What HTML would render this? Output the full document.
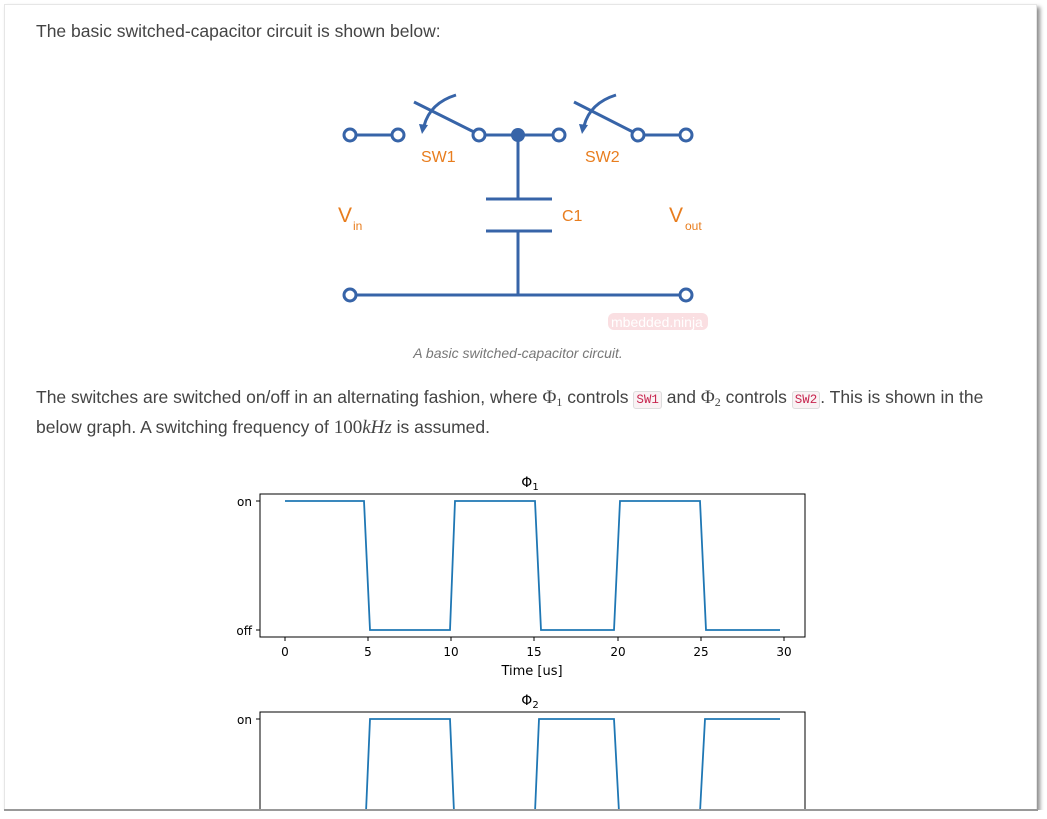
<!DOCTYPE html>
<html><head><style>
body{margin:0;width:1047px;height:819px;background:#fff;overflow:hidden;font-family:"Liberation Sans",sans-serif;}
.card{position:absolute;left:4px;top:4px;width:1033px;height:806px;background:#fff;box-shadow:3px 3px 4px rgba(0,0,0,.45);border:1px solid #e6e6e6;box-sizing:border-box;}
p{position:absolute;margin:0;left:36px;font-size:17.5px;color:#444;}
code{font-family:"Liberation Mono",monospace;font-size:12.5px;color:#c7254e;background:#f9f2f4;border:1px solid #ddd;border-radius:3px;padding:1px 2px;line-height:0;}
.m{font-family:"Liberation Serif",serif;font-size:19px;line-height:0;}
sub{font-size:12px;line-height:0;vertical-align:-3px;}
</style></head><body>
<div class="card"></div>
<p style="top:21px">The basic switched-capacitor circuit is shown below:</p>
<svg style="position:absolute;left:0;top:0" width="1047" height="819">
<g stroke="#3764a8" stroke-width="3" fill="none">
<line x1="356" y1="135" x2="392" y2="135"/>
<line x1="485" y1="135" x2="553" y2="135"/>
<line x1="644" y1="135" x2="680" y2="135"/>
<line x1="356" y1="295" x2="680" y2="295"/>
<line x1="518" y1="135" x2="518" y2="199"/>
<line x1="518" y1="231" x2="518" y2="295"/>
<line x1="486" y1="199" x2="552" y2="199"/>
<line x1="486" y1="231" x2="552" y2="231"/>
<line x1="414" y1="102" x2="474" y2="132"/>
<line x1="574" y1="102" x2="633" y2="132"/>
<path d="M456 95 Q430 103 424 126"/>
<path d="M616 95 Q590 103 584 126"/>
<circle cx="350" cy="135" r="6" fill="#fff"/><circle cx="398" cy="135" r="6" fill="#fff"/>
<circle cx="479" cy="135" r="6" fill="#fff"/><circle cx="559" cy="135" r="6" fill="#fff"/>
<circle cx="638" cy="135" r="6" fill="#fff"/><circle cx="686" cy="135" r="6" fill="#fff"/>
<circle cx="350" cy="295" r="6" fill="#fff"/><circle cx="686" cy="295" r="6" fill="#fff"/>
</g>
<circle cx="518" cy="135" r="7" fill="#3764a8"/>
<path d="M419 124 L428 125 L422 134Z" fill="#3764a8"/>
<path d="M579 124 L588 125 L582 134Z" fill="#3764a8"/>
<g fill="#e87d1e" font-family="Liberation Sans,sans-serif">
<text x="421" y="162" font-size="16">SW1</text>
<text x="585" y="162" font-size="16">SW2</text>
<text x="562" y="221" font-size="16">C1</text>
<text x="338" y="222" font-size="21">V</text><text x="353" y="230" font-size="12">in</text>
<text x="669" y="222" font-size="21">V</text><text x="685" y="230" font-size="12">out</text>
</g>
<rect x="608" y="313" width="100" height="17" rx="6" fill="#f6c9cf" opacity=".6"/>
<text x="611" y="327" font-size="14" fill="#fff" font-family="Liberation Sans,sans-serif">mbedded.ninja</text>
<text x="518" y="358" font-size="14" fill="#777" font-style="italic" text-anchor="middle" font-family="Liberation Sans,sans-serif">A basic switched-capacitor circuit.</text>
<g font-family="DejaVu Sans,sans-serif" font-size="12" fill="#000">
<rect x="260" y="494" width="545" height="143" fill="none" stroke="#000" stroke-width="1"/>
<line x1="256" y1="501" x2="260" y2="501" stroke="#000"/><line x1="256" y1="630" x2="260" y2="630" stroke="#000"/>
<text x="252" y="506" text-anchor="end">on</text><text x="252" y="635" text-anchor="end">off</text>
<g stroke="#000"><line x1="285" y1="637" x2="285" y2="641"/><line x1="368" y1="637" x2="368" y2="641"/><line x1="451" y1="637" x2="451" y2="641"/><line x1="534" y1="637" x2="534" y2="641"/><line x1="618" y1="637" x2="618" y2="641"/><line x1="701" y1="637" x2="701" y2="641"/><line x1="784" y1="637" x2="784" y2="641"/></g>
<g text-anchor="middle"><text x="285" y="656">0</text><text x="368" y="656">5</text><text x="451" y="656">10</text><text x="534" y="656">15</text><text x="618" y="656">20</text><text x="701" y="656">25</text><text x="784" y="656">30</text>
<text x="532" y="675" font-size="13">Time [us]</text>
<text x="530" y="487" font-size="14">Φ<tspan font-size="10" dy="3">1</tspan></text>
<text x="530" y="705" font-size="14">Φ<tspan font-size="10" dy="3">2</tspan></text></g>
<polyline points="285,501 364,501 370,630 450,630 455,501 535,501 541,630 614,630 620,501 700,501 706,630 780,630" fill="none" stroke="#1f77b4" stroke-width="1.8"/>
<path d="M260 812 V712 H805 V812" fill="none" stroke="#000"/>
<line x1="256" y1="719" x2="260" y2="719" stroke="#000"/>
<text x="252" y="724" text-anchor="end">on</text>
<polyline points="366,812 370,719 450,719 454,812" fill="none" stroke="#1f77b4" stroke-width="1.8"/>
<polyline points="535,812 539,719 614,719 619,812" fill="none" stroke="#1f77b4" stroke-width="1.8"/>
<polyline points="700,812 705,719 780,719" fill="none" stroke="#1f77b4" stroke-width="1.8"/>
</g>
</svg>
<p style="top:382px;line-height:30px">The switches are switched on/off in an alternating fashion, where <span class="m">Φ<sub>1</sub></span> controls <code>SW1</code> and <span class="m">Φ<sub>2</sub></span> controls <code>SW2</code>. This is shown in the<br>below graph. A switching frequency of <span class="m">100<i>kHz</i></span> is assumed.</p>
<div style="position:absolute;left:0;top:810px;width:1047px;height:9px;background:#fff"></div>
<div style="position:absolute;left:4px;top:809px;width:1034px;height:2px;background:#999"></div>
</body></html>
